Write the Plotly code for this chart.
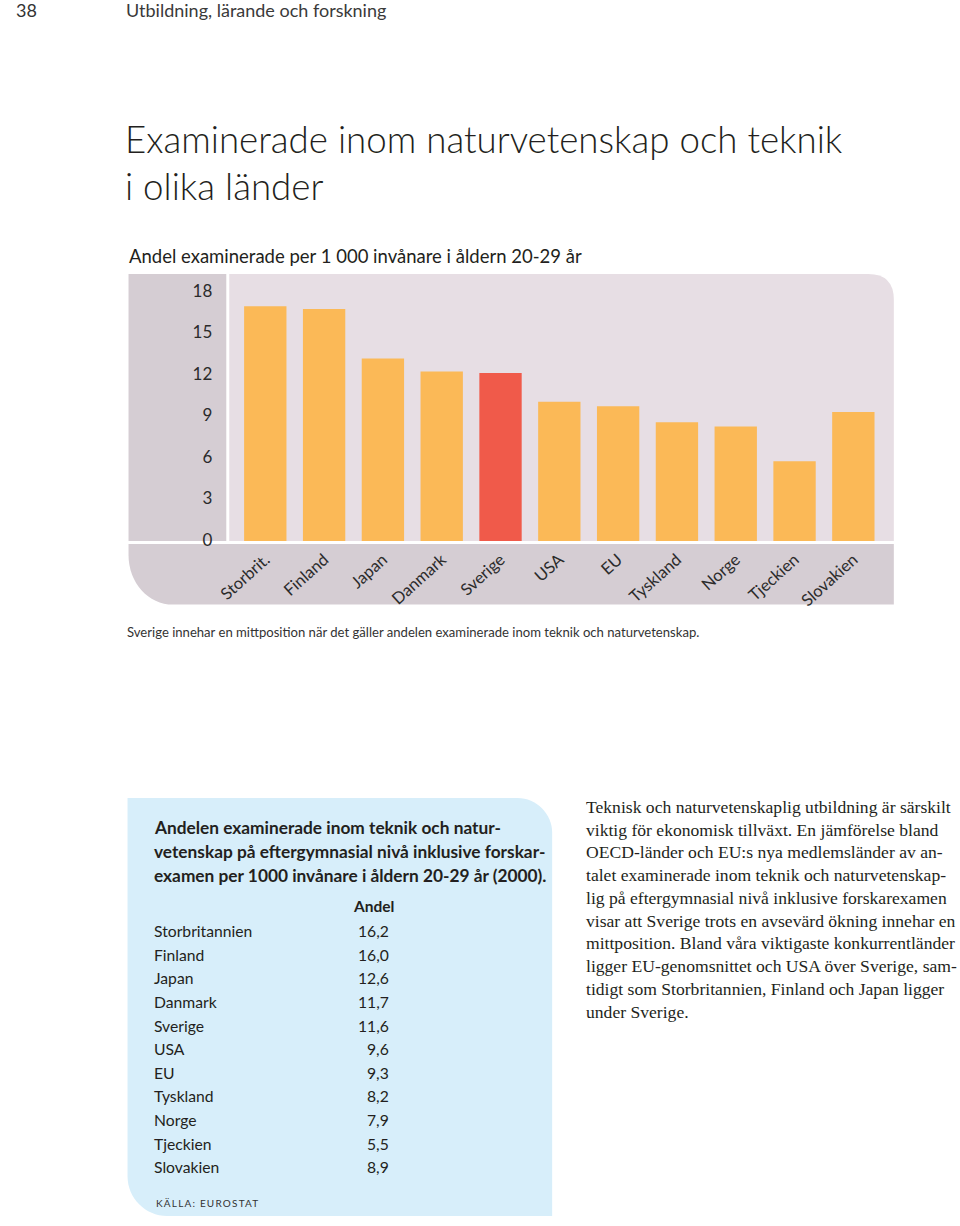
import plotly.graph_objects as go

# ---------------- data ----------------
bar_labels = ["Storbrit.", "Finland", "Japan", "Danmark", "Sverige", "USA", "EU",
              "Tyskland", "Norge", "Tjeckien", "Slovakien"]
table_countries = ["Storbritannien", "Finland", "Japan", "Danmark", "Sverige", "USA", "EU",
                   "Tyskland", "Norge", "Tjeckien", "Slovakien"]
values = [16.2, 16.0, 12.6, 11.7, 11.6, 9.6, 9.3, 8.2, 7.9, 5.5, 8.9]
highlight = "Sverige"
y_ticks = [0, 3, 6, 9, 12, 15, 18]

W, H = 960, 1226
SANS = "Lato, 'Open Sans', sans-serif"
SERIF = "'Liberation Serif', 'DejaVu Serif', serif"
TXT = "#231f20"
ORANGE = "#fbb957"
RED = "#f05a4a"
PANEL = "#d5cdd3"
PLOTBG = "#e7dee4"
BOX = "#d7eefa"


def px(x):
    return x / W


def py(y):
    return 1 - y / H


def path(cmds):
    out = []
    for c in cmds:
        if isinstance(c, str):
            out.append(c)
        else:
            out.append(f"{px(c[0]):.5f},{py(c[1]):.5f}")
    return " ".join(out)


colors = [RED if b == highlight else ORANGE for b in bar_labels]

fig = go.Figure()
fig.add_trace(go.Bar(x=bar_labels, y=values, marker=dict(color=colors, line=dict(width=0)),
                     width=0.72, showlegend=False, hoverinfo="x+y"))
# empty trace so the label axis is drawn
fig.add_trace(go.Scatter(x=[], y=[], yaxis="y2", showlegend=False, hoverinfo="skip"))

plot_l, plot_r, plot_t, plot_b = 220, 893, 276, 545
step = 59.55
c0 = 256.5

shapes = []
shapes.append(dict(type="rect", xref="paper", yref="paper", x0=px(118), x1=px(217),
                   y0=py(545), y1=py(276), fillcolor=PANEL, line=dict(width=0), layer="below"))
shapes.append(dict(type="path", xref="paper", yref="paper", layer="below",
                   path=path(["M", (220, 545), "L", (220, 276), "L", (867, 276), "Q", (893, 276),
                              (893, 302), "L", (893, 545), "Z"]),
                   fillcolor=PLOTBG, line=dict(width=0)))
shapes.append(dict(type="path", xref="paper", yref="paper", layer="below",
                   path=path(["M", (118, 548), "L", (893, 548), "L", (893, 609), "L", (163, 609),
                              "C", (138, 609), (118, 587), (118, 559), "Z"]),
                   fillcolor=PANEL, line=dict(width=0)))
shapes.append(dict(type="path", xref="paper", yref="paper", layer="below",
                   path=path(["M", (117, 804), "L", (512, 804), "C", (531, 804), (547, 820), (547, 839),
                              "L", (547, 1225), "L", (157, 1225), "C", (135, 1225), (117, 1207),
                              (117, 1185), "Z"]),
                   fillcolor=BOX, line=dict(width=0)))

ann = []


def text(x, y, t, size, color=TXT, family=SANS, xanchor="left", weight=None):
    f = dict(size=size, color=color, family=family)
    if weight:
        f["weight"] = weight
    ann.append(dict(x=px(x), y=py(y), xref="paper", yref="paper", text=t, showarrow=False,
                    xanchor=xanchor, yanchor="middle", font=f, align=xanchor))


text(2, 10, "38", 18, "#333333")
text(113, 10, "Utbildning, lärande och forskning", 18, "#3a3a3a")
text(112, 140, "Examinerade inom naturvetenskap och teknik", 36.7, weight=300)
text(112, 187, "i olika länder", 36.7, weight=300)
text(116, 258, "Andel examinerade per 1 000 invånare i åldern 20-29 år", 18.5)
text(114, 637, "Sverige innehar en mittposition när det gäller andelen examinerade inom teknik och naturvetenskap.",
     13.1, "#333333")

head = ["Andelen examinerade inom teknik och natur-",
        "vetenskap på eftergymnasial nivå inklusive forskar-",
        "examen per 1000 invånare i åldern 20-29 år (2000)."]
for i, h in enumerate(head):
    text(142, 834 + i * 23.8, "<b>" + h + "</b>", 17.3)
text(389, 913, "<b>Andel</b>", 15.5, xanchor="right")
for i, (c, v) in enumerate(zip(table_countries, values)):
    yy = 938 + i * 23.8
    text(142, yy, c, 15.7)
    text(384, yy, f"{v:.1f}".replace(".", ","), 15.7, xanchor="right")
text(144, 1212, "<span style='letter-spacing:1.2px'>KÄLLA: EUROSTAT</span>", 10, "#333333")

body = ["Teknisk och naturvetenskaplig utbildning är särskilt",
        "viktig för ekonomisk tillväxt. En jämförelse bland",
        "OECD-länder och EU:s nya medlemsländer av an-",
        "talet examinerade inom teknik och naturvetenskap-",
        "lig på eftergymnasial nivå inklusive forskarexamen",
        "visar att Sverige trots en avsevärd ökning innehar en",
        "mittposition. Bland våra viktigaste konkurrentländer",
        "ligger EU-genomsnittet och USA över Sverige, sam-",
        "tidigt som Storbritannien, Finland och Japan ligger",
        "under Sverige."]
for i, line in enumerate(body):
    text(579, 813 + i * 22.9, line, 17.6, family=SERIF)

fig.update_layout(
    width=W, height=H, autosize=False,
    margin=dict(l=0, r=0, t=0, b=0, pad=0),
    paper_bgcolor="white", plot_bgcolor="rgba(0,0,0,0)",
    shapes=shapes, annotations=ann,
    xaxis=dict(domain=[px(plot_l), px(plot_r)], type="category",
               range=[(plot_l - c0) / step, (plot_r - c0) / step],
               showgrid=False, zeroline=False, showline=False, ticks="",
               tickangle=-42, tickfont=dict(family=SANS, size=16.5, color="#2b2b2b"),
               ticklabelstandoff=5, fixedrange=True),
    yaxis=dict(domain=[py(plot_b), py(plot_t)], range=[0, (plot_b - plot_t) / 14.6],
               showgrid=False, zeroline=False, showline=False, showticklabels=False, ticks="",
               fixedrange=True),
    yaxis2=dict(overlaying="y", side="left", range=[-0.08, 19.22], tickvals=y_ticks,
                ticktext=[str(t) for t in y_ticks],
                showgrid=False, zeroline=False, showline=False, ticks="",
                tickfont=dict(family=SANS, size=17, color="#2b2b2b"),
                ticklabelstandoff=16, fixedrange=True),
)

fig.write_html("out.html")
